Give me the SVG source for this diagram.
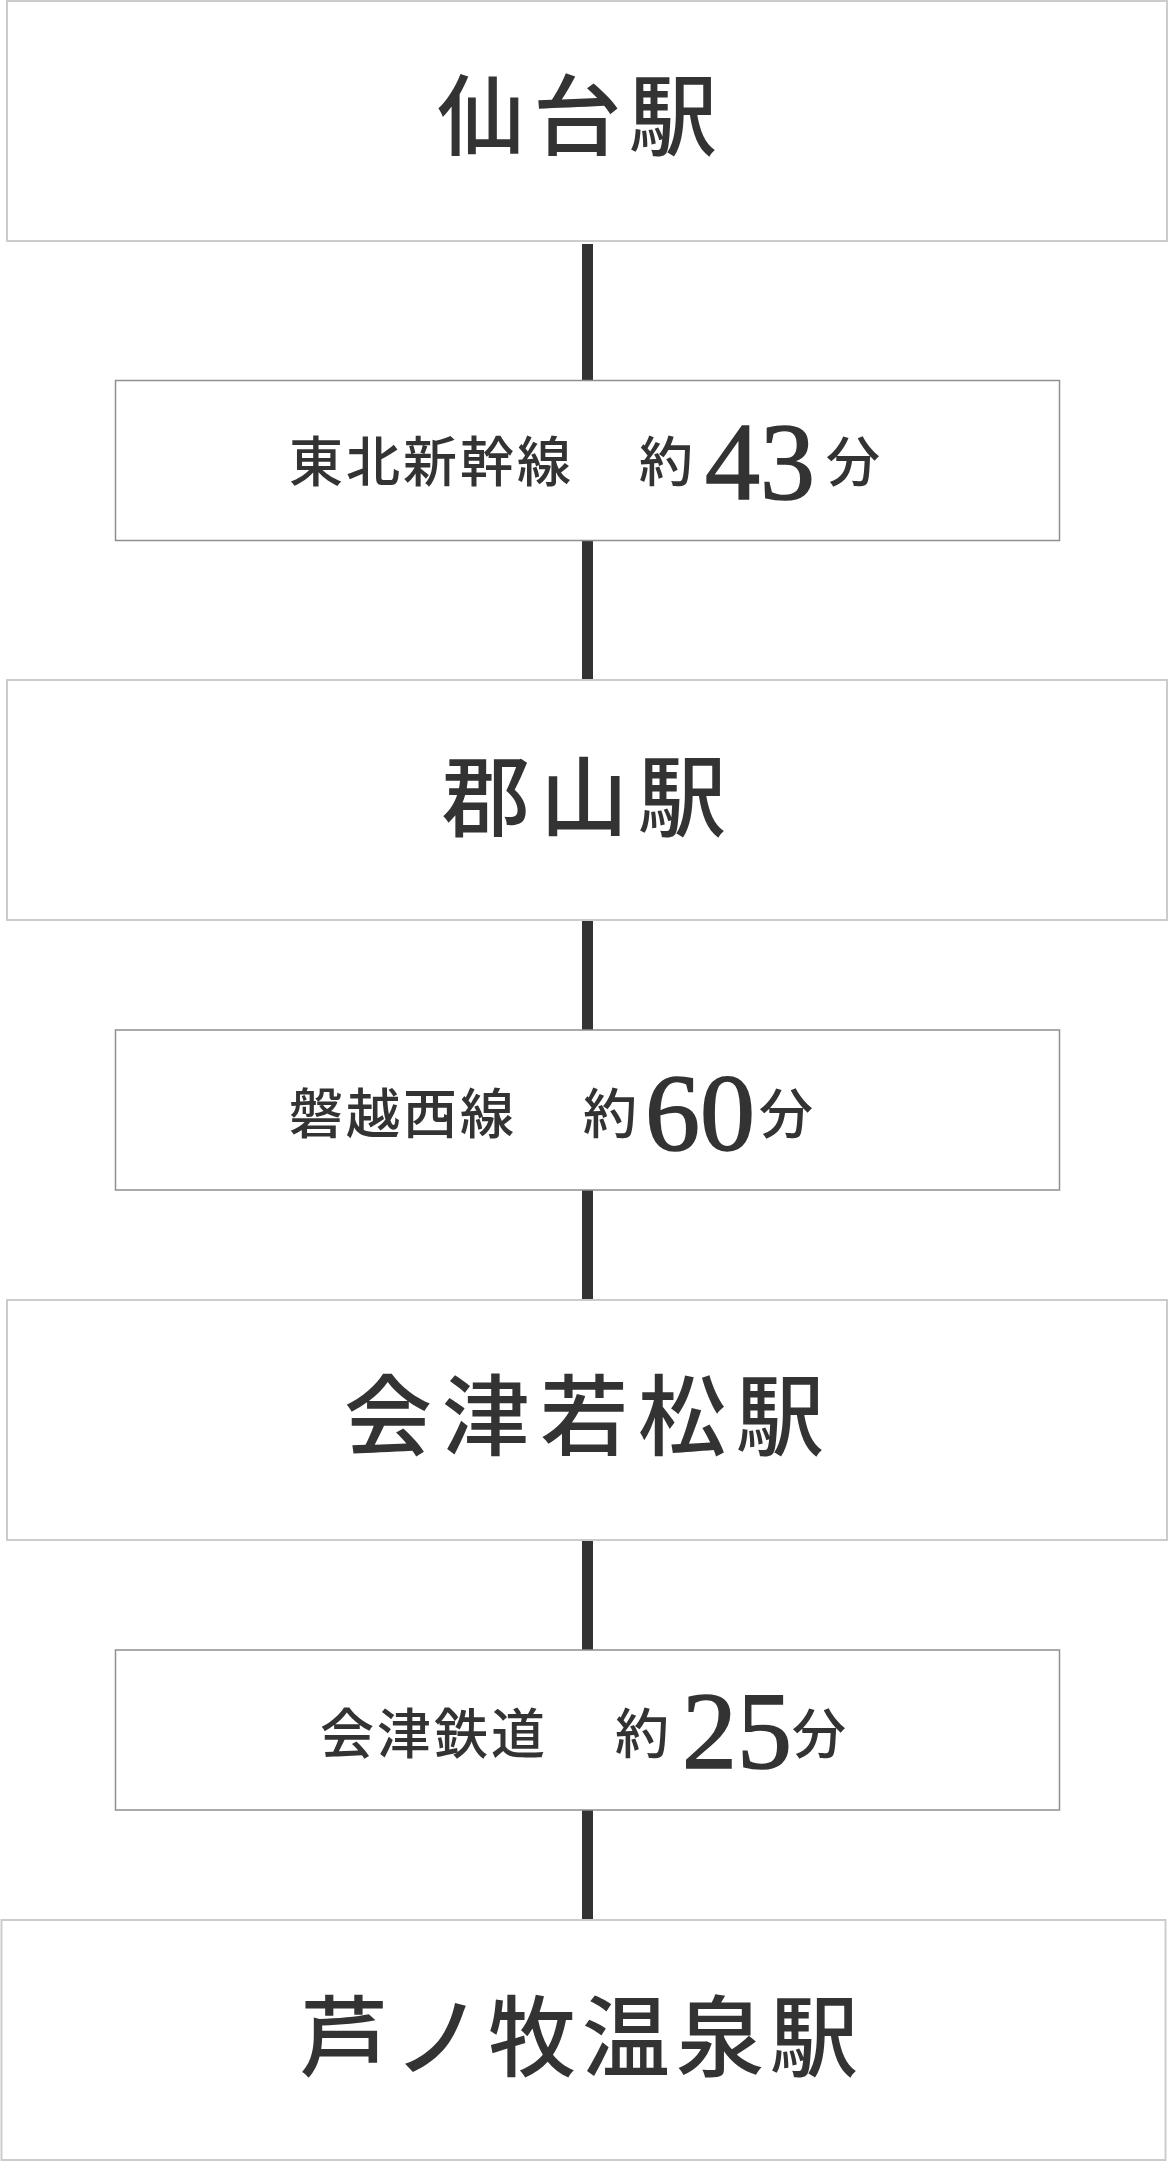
<svg xmlns="http://www.w3.org/2000/svg" width="1169" height="2162" viewBox="0 0 1169 2162">
  <style>
    .station { fill: #ffffff; stroke: #cccccc; stroke-width: 2; }
    .line-box { fill: #ffffff; stroke: #8f8f8f; stroke-width: 1.5; }
    .conn { stroke: #333333; stroke-width: 11; fill: none; }
    .st-label { font-family: "Noto Sans CJK JP", "Noto Sans CJK SC", sans-serif; font-size: 88px; font-weight: 500; letter-spacing: 10px; fill: #333333; }
    .ln-label { font-family: "Noto Sans CJK JP", "Noto Sans CJK SC", sans-serif; font-size: 54px; font-weight: 500; letter-spacing: 3px; fill: #333333; }
    .num { font-family: "Liberation Serif", "Times New Roman", serif; font-size: 110px; font-weight: normal; letter-spacing: 0; fill: #333333; stroke: #333333; stroke-width: 1.6px; }
  </style>
  <rect width="1169" height="2162" fill="#ffffff"/>
  <g id="connectors">
    <line class="conn" x1="587.5" y1="244" x2="587.5" y2="381"/>
    <line class="conn" x1="587.5" y1="540" x2="587.5" y2="680"/>
    <line class="conn" x1="587.5" y1="921" x2="587.5" y2="1030"/>
    <line class="conn" x1="587.5" y1="1190" x2="587.5" y2="1300"/>
    <line class="conn" x1="587.5" y1="1541" x2="587.5" y2="1650"/>
    <line class="conn" x1="587.5" y1="1810" x2="587.5" y2="1920"/>
  </g>
  <g id="sendai">
    <rect class="station" x="7" y="1" width="1160" height="240"/>
    <text class="st-label" x="437" y="148" style="letter-spacing:8px">仙台駅</text>
  </g>
  <g id="tohoku-shinkansen">
    <rect class="line-box" x="115.5" y="380.5" width="944" height="160"/>
    <text class="ln-label" y="482"><tspan x="289">東北新幹線</tspan><tspan x="639">約</tspan><tspan class="num" x="705" y="499">43</tspan><tspan x="826" y="482">分</tspan></text>
  </g>
  <g id="koriyama">
    <rect class="station" x="7" y="680" width="1160" height="240"/>
    <text class="st-label" x="442" y="829">郡山駅</text>
  </g>
  <g id="banetsu-west">
    <rect class="line-box" x="115.5" y="1030" width="944" height="160"/>
    <text class="ln-label" y="1134"><tspan x="289">磐越西線</tspan><tspan x="583">約</tspan><tspan class="num" x="645" y="1150">60</tspan><tspan x="759" y="1134">分</tspan></text>
  </g>
  <g id="aizu-wakamatsu">
    <rect class="station" x="7" y="1300" width="1160" height="240"/>
    <text class="st-label" x="344" y="1448">会津若松駅</text>
  </g>
  <g id="aizu-railway">
    <rect class="line-box" x="115.5" y="1650" width="944" height="160"/>
    <text class="ln-label" y="1754"><tspan x="320">会津鉄道</tspan><tspan x="615">約</tspan><tspan class="num" x="682" y="1768">25</tspan><tspan x="792" y="1754">分</tspan></text>
  </g>
  <g id="ashinomaki-onsen">
    <rect class="station" x="1.5" y="1920" width="1164" height="240"/>
    <text class="st-label" x="300" y="2069" style="letter-spacing:6px">芦ノ牧温泉駅</text>
  </g>
</svg>
